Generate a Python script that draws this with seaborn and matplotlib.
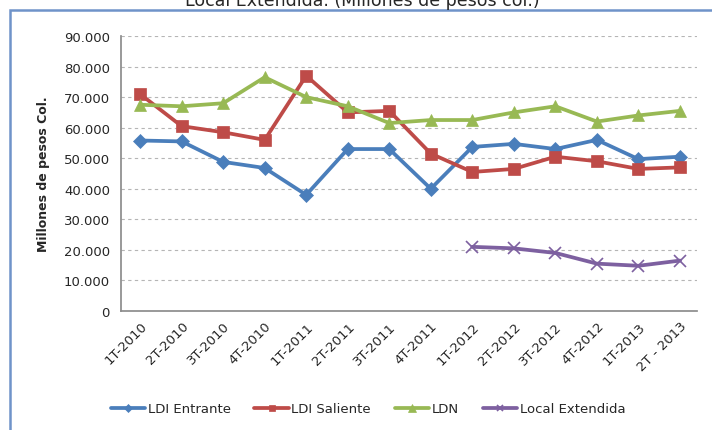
import matplotlib
matplotlib.use("Agg")
import matplotlib.pyplot as plt
import matplotlib.patches as mpatches
from matplotlib.ticker import FuncFormatter
import seaborn as sns
import pandas as pd

categories = ["1T-2010", "2T-2010", "3T-2010", "4T-2010", "1T-2011", "2T-2011", "3T-2011",
              "4T-2011", "1T-2012", "2T-2012", "3T-2012", "4T-2012", "1T-2013", "2T - 2013"]
ldi_entrante = [55800, 55500, 48800, 46800, 38000, 53000, 53000, 40000, 53700, 54700, 53000, 56000, 49700, 50500]
ldi_saliente = [71000, 60500, 58500, 56000, 77000, 65000, 65500, 51500, 45500, 46500, 50500, 49000, 46500, 47000]
ldn = [67500, 67000, 68000, 76500, 70000, 67000, 61500, 62500, 62500, 65000, 67000, 62000, 64000, 65500]
local_ext_cats = ["1T-2012", "2T-2012", "3T-2012", "4T-2012", "1T-2013", "2T - 2013"]
local_extendida = [21000, 20500, 19000, 15500, 14800, 16500]

sns.set_theme(style="white")
plt.rcParams['font.family'] = ['DejaVu Sans']

fig = plt.figure(figsize=(7.12, 4.31), dpi=100)
ax = fig.add_axes([121/712, 1-312/431, (697-121)/712, (312-37)/431])

pos = {c: i for i, c in enumerate(categories)}
series = [
    ("LDI Entrante", categories, ldi_entrante, "#4a7ebb", "D", 7),
    ("LDI Saliente", categories, ldi_saliente, "#be4b48", "s", 8),
    ("LDN", categories, ldn, "#98b954", "^", 9),
    ("Local Extendida", local_ext_cats, local_extendida, "#7d60a0", "x", 8),
]
for name, cats, vals, col, mk, ms in series:
    df = pd.DataFrame({"x": [pos[c] for c in cats], "y": vals})
    sns.lineplot(data=df, x="x", y="y", ax=ax, color=col, linewidth=2.7,
                 marker=mk, markersize=ms, markeredgecolor=col,
                 markeredgewidth=1.2 if mk == "x" else 0.5, label=name)

ax.set_xlim(-0.46, 13.41)
ax.set_ylim(0, 90000)
ax.set_yticks(range(0, 90001, 10000))
ax.yaxis.set_major_formatter(FuncFormatter(lambda v, p: "0" if v == 0 else f"{int(v):,}".replace(",", ".")))
ax.set_xticks(range(len(categories)))
ax.set_xticklabels(categories, rotation=45, ha="right", rotation_mode="anchor", fontsize=9.5)
ax.tick_params(axis="y", labelsize=9.5, length=0, pad=8)
ax.tick_params(axis="x", length=0, pad=6)
ax.set_xlabel("")
ax.set_ylabel("Millones de pesos Col.", fontsize=9, fontweight="bold", labelpad=10)
for y in range(10000, 90001, 10000):
    ax.axhline(y, color="#b5b5b5", linestyle=(0, (3, 3)), linewidth=0.8, zorder=0)
for s in ["top", "right"]:
    ax.spines[s].set_visible(False)
ax.spines["left"].set_color("#8c8c8c")
ax.spines["bottom"].set_color("#8c8c8c")

ax.legend(loc="center", bbox_to_anchor=(368/712, 1-410/431), bbox_transform=fig.transFigure,
          ncol=4, frameon=False, fontsize=9.5, handlelength=2.6, markerscale=0.6,
          columnspacing=1.8, handletextpad=0.2)

fig.patches.append(mpatches.Rectangle((10/712, -0.05), 1.0, 1.05 - 11/431,
                                      transform=fig.transFigure, fill=False,
                                      edgecolor="#6f93c9", linewidth=1.8))
fig.text(362/712, 1-1/431, "Local Extendida. (Millones de pesos col.)", ha="center", va="center", fontsize=12.5)

fig.savefig("out.png", dpi=100)
